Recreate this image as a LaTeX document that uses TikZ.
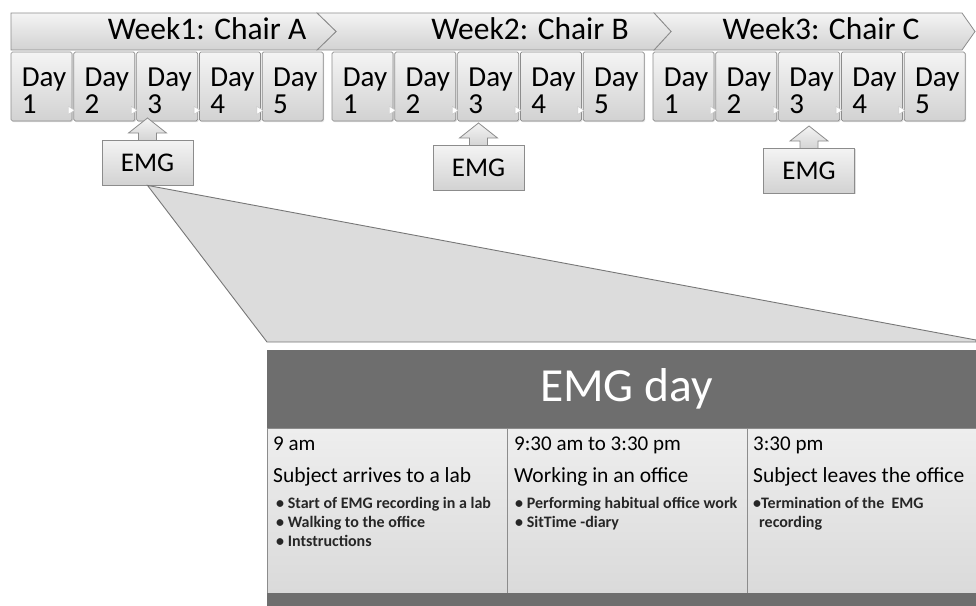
\documentclass[tikz,border=0pt]{standalone}
\usepackage{fontspec}
\setmainfont{Carlito}
\usetikzlibrary{calc,shadows}
\definecolor{edge}{HTML}{8C8C8C}
\definecolor{dark}{HTML}{6E6E6E}
\definecolor{lite}{HTML}{F4F4F4}
\definecolor{mid}{HTML}{D2D2D2}
\definecolor{zoomfill}{HTML}{DCDCDC}
\definecolor{celltop}{HTML}{EEEEEE}
\definecolor{cellbot}{HTML}{DADADA}
\begin{document}
\begin{tikzpicture}[x=1pt,y=-1pt,
  banner/.style={draw=edge, line width=0.8pt, top color=lite, bottom color=mid},
  weektxt/.style={font=\fontsize{31.5}{31.5}\selectfont, inner sep=0, anchor=base},
  daybox/.style={draw=edge, line width=0.7pt, top color=lite, bottom color=mid, rounded corners=1.5pt,
     minimum width=61, minimum height=69, inner sep=0,
     drop shadow={shadow xshift=1pt, shadow yshift=-1.2pt, opacity=0.25}},
  daytxt/.style={font=\fontsize{29}{27}\selectfont, align=left, inner sep=0, anchor=base west},
  tri/.style={fill=white, draw=edge!50, line width=0.4pt},
  emgbox/.style={draw=edge, line width=0.8pt, top color=lite, bottom color=mid,
     minimum width=91, minimum height=45, inner sep=0, font=\fontsize{27}{27}\selectfont,
     drop shadow={shadow xshift=1pt, shadow yshift=-1.2pt, opacity=0.25}},
  uparrow/.style={draw=edge, line width=0.8pt, top color=lite, bottom color=mid},
  zoomst/.style={draw=edge!85!black, line width=0.9pt, fill=zoomfill},
  hdrst/.style={fill=dark, draw=dark, minimum width=709, minimum height=78, inner sep=0,
     text=white, font=\fontsize{47.5}{47.5}\selectfont},
  cellst/.style={draw=edge, line width=0.8pt, top color=celltop, bottom color=cellbot,
     minimum height=165, inner sep=0},
  ftrst/.style={fill=dark, draw=dark, minimum width=709, minimum height=12, inner sep=0},
  tm/.style={font=\fontsize{21}{24}\selectfont, inner sep=0, anchor=base west},
  hd/.style={font=\fontsize{21.5}{26}\selectfont, inner sep=0, anchor=base west},
  bl/.style={font=\fontsize{16}{19}\selectfont\bfseries, align=left, inner sep=0, anchor=base west, text=black!85}
]
\useasboundingbox (0,0) rectangle (976,605);

% week banners
\draw[banner] (654,13) -- (962,13) -- (975,31.5) -- (962,50) -- (654,50) -- (671,31.5) -- cycle;
\draw[banner] (317,13) -- (654,13) -- (671,31.5) -- (654,50) -- (317,50) -- (336,31.5) -- cycle;
\draw[banner] (11,13) -- (317,13) -- (336,31.5) -- (317,50) -- (11,50) -- cycle;
\node[weektxt] (wk1) at (207,39) {Week1: Chair A};
\node[weektxt] (wk2) at (530,39) {Week2: Chair B};
\node[weektxt] (wk3) at (821,39) {Week3: Chair C};

% day boxes
\foreach \w/\s in {1/11,2/332,3/653}{
  \foreach \d in {1,...,5}{
    \node[daybox] (w\w d\d) at ({\s+(\d-1)*62.8+30.5},86.5) {};
    \node[daytxt] (w\w t\d) at ($(w\w d\d.north west)+(11,61.5)$) {Day\\\d};
  }
  \foreach \d in {2,...,5}{
    \draw[tri] ($(w\w d\d.south west)+(-5,-15)$) -- ($(w\w d\d.south west)+(-5,-7)$) -- ($(w\w d\d.south west)+(1,-11)$) -- cycle;
  }
}

% EMG boxes with up arrows
\foreach \i/\cx/\cy in {1/147.5/162.5, 2/478.5/167.5, 3/809/170.5}{
  \coordinate (n\i) at (\cx,\cy-22.5);
  \draw[uparrow] ($(n\i)+(-9,2)$) -- ($(n\i)+(-9,-7)$) -- ($(n\i)+(-19,-7)$) -- ($(n\i)+(0,-22)$)
     -- ($(n\i)+(19,-7)$) -- ($(n\i)+(9,-7)$) -- ($(n\i)+(9,2)$);
  \node[emgbox] (e\i) at (\cx,\cy) {EMG};
}

% zoom callout
\coordinate (zr) at (976,340);
\coordinate (zb) at (976,342);
\coordinate (zl) at (267,342);
\draw[zoomst] (e1.south) -- (zr) -- (zb) -- (zl) -- cycle;

% table
\node[hdrst] (hdr) at (621.5,389) {\hspace*{10pt}EMG day};
\node[cellst, minimum width=240] (c1) at (387,510.5) {};
\node[cellst, minimum width=240] (c2) at (627,510.5) {};
\node[cellst, minimum width=229] (c3) at (861.5,510.5) {};
\node[ftrst] (ftr) at (621.5,599) {};

\node[tm] (t1) at (273,450) {9 am};
\node[hd] (h1) at (273,482) {Subject arrives to a lab};
\node[bl] (b1) at (276,546) {• Start of EMG recording in a lab\\• Walking to the office\\• Intstructions};

\node[tm] (t2) at (514,450) {9:30 am to 3:30 pm};
\node[hd] (h2) at (514,482) {Working in an office};
\node[bl] (b2) at (515,527) {• Performing habitual office work\\• SitTime -diary};

\node[tm] (t3) at (753,450) {3:30 pm};
\node[hd] (h3) at (753,482) {Subject leaves the office};
\node[bl] (b3) at (753,527) {•Termination of the \ EMG\\\hspace*{6pt}recording};
\end{tikzpicture}
\end{document}
